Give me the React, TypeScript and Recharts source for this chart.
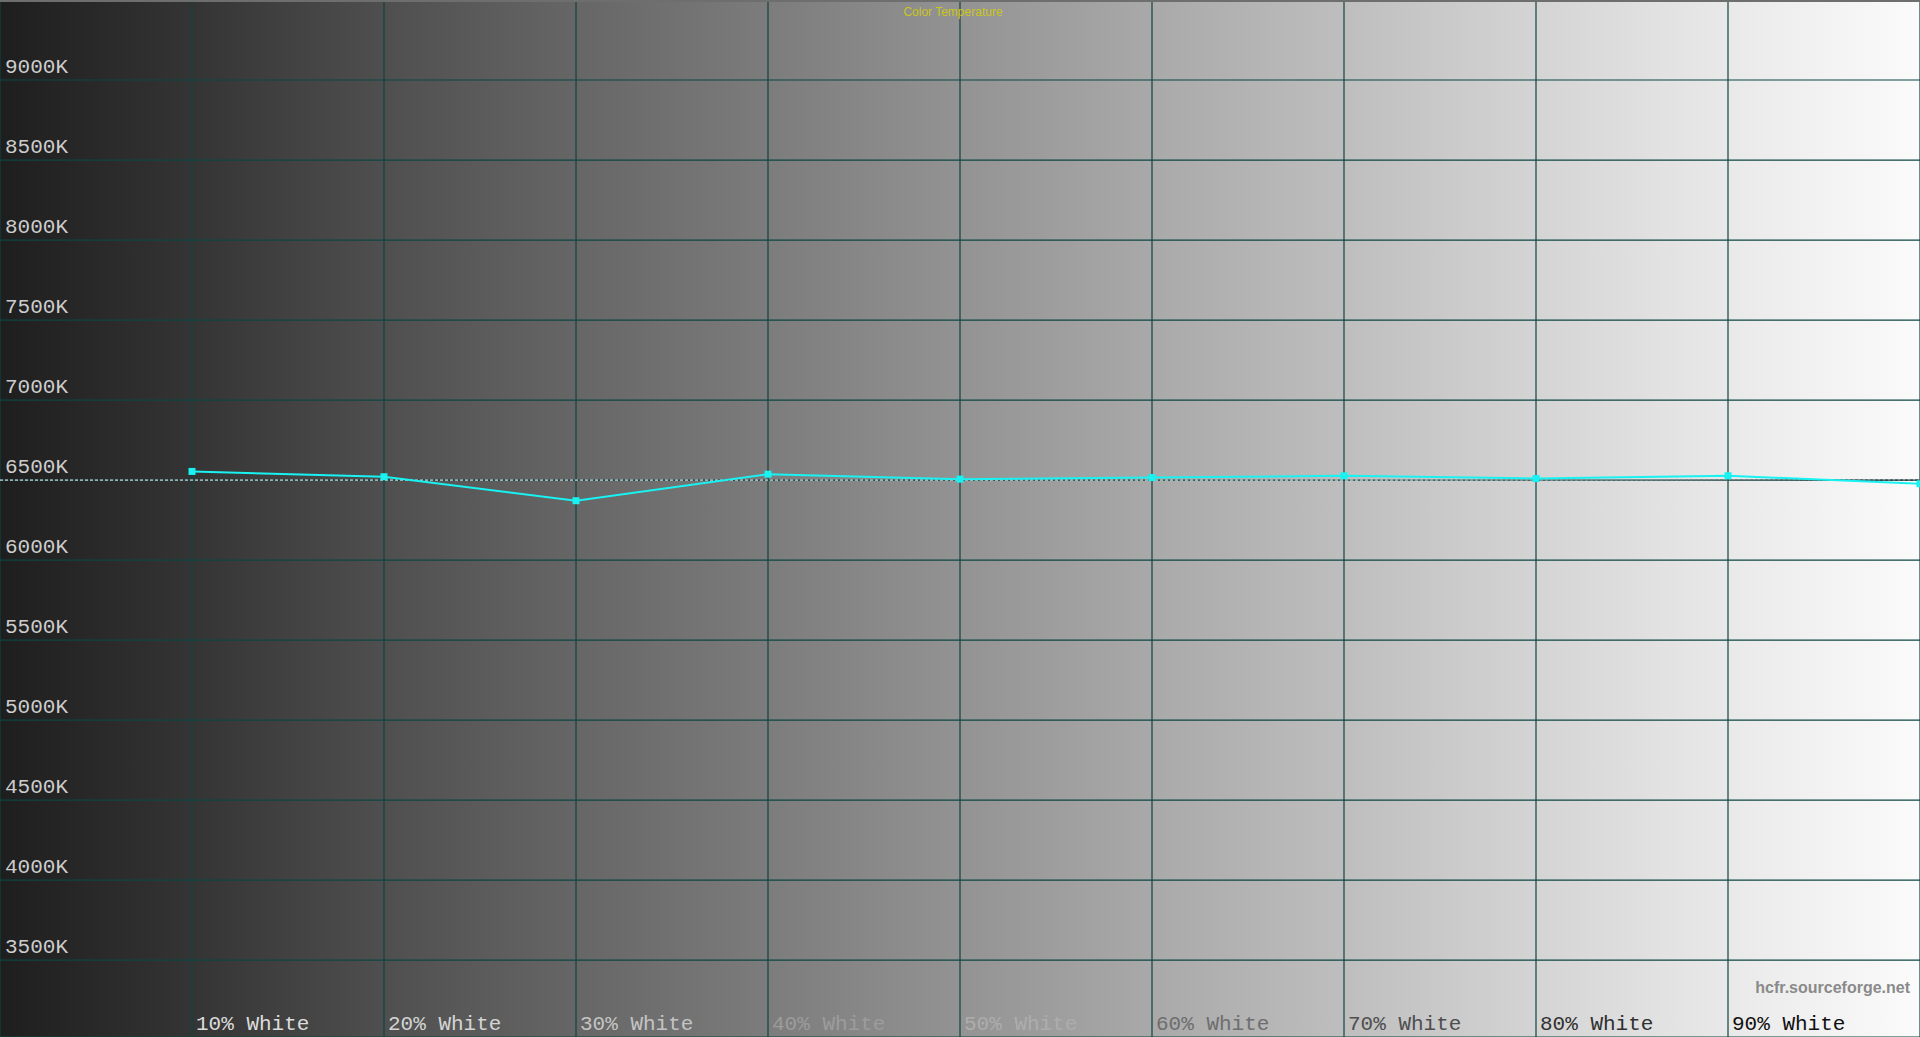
import React from "react";
import { CartesianGrid, Line, LineChart, ReferenceLine, XAxis, YAxis } from "recharts";

// grey ramp levels measured by the probe
const levels = [10, 20, 30, 40, 50, 60, 70, 80, 90, 100];
const kelvin = [6554, 6521, 6371, 6537, 6506, 6516, 6527, 6510, 6527, 6477];

const xTicks = [0, 10, 20, 30, 40, 50, 60, 70, 80, 90, 100];
const xLabels = ["", "10% White", "20% White", "30% White", "40% White", "50% White", "60% White", "70% White", "80% White", "90% White", ""];
const xLabelColors = ["", "#dcdcdc", "#d4d4d4", "#c4c4c4", "#9c9c9c", "#adadad", "#6e6e6e", "#4e4e4e", "#303030", "#101010", ""];

const yTicks = [3500, 4000, 4500, 5000, 5500, 6000, 6500, 7000, 7500, 8000, 8500, 9000];
const target = 6500;

const data = levels.map((level, i) => ({ level, kelvin: kelvin[i] }));

const MONO = '"Courier New", "Liberation Mono", monospace';

const renderYTick = (props: any) => {
  const { y, payload } = props;
  return (
    <text x={5} y={y - 7} fill="#cdcdcd" fontSize={21} fontFamily={MONO}>
      {payload.value}K
    </text>
  );
};

const renderXTick = (props: any) => {
  const { x, payload } = props;
  const i = xTicks.indexOf(payload.value);
  if (!xLabels[i]) return <g />;
  return (
    <text x={x + 4} y={1030} fill={xLabelColors[i]} fontSize={21} fontFamily={MONO}>
      {xLabels[i]}
    </text>
  );
};

const SquareDot = (props: any) => {
  const { cx, cy } = props;
  if (cx == null || cy == null) return <g />;
  return <rect x={cx - 3.5} y={cy - 3.5} width={7} height={7} fill="#19f2f2" />;
};

export default function App() {
  return (
    <div
      style={{
        position: "absolute",
        top: 0,
        left: 0,
        width: 1920,
        height: 1037,
        overflow: "hidden",
        background:
          "linear-gradient(to right, #1e1e1e 0%, #343434 10%, #4f4f4f 20%, #666666 30%, #7c7c7c 40%, #939393 50%, #a9a9a9 60%, #bebebe 70%, #d4d4d4 80%, #e9e9e9 90%, #fbfbfb 100%)",
      }}
    >
      <LineChart width={1920} height={1037} data={data} margin={{ top: 0, right: 0, bottom: 0, left: 0 }}>
        <defs>
          <linearGradient id="refFade" gradientUnits="userSpaceOnUse" x1="0" y1="0" x2="1920" y2="0">
            <stop offset="0%" stopColor="#ffffff" />
            <stop offset="70%" stopColor="#f0f0f0" />
            <stop offset="100%" stopColor="#202020" />
          </linearGradient>
        </defs>
        <CartesianGrid stroke="#0f4444" strokeWidth={1.2} />
        <XAxis
          type="number"
          dataKey="level"
          domain={[0, 100]}
          ticks={xTicks}
          mirror
          tickSize={0}
          tickMargin={0}
          axisLine={false}
          tickLine={false}
          tick={renderXTick}
          interval={0}
        />
        <YAxis
          type="number"
          domain={[3020, 9500]}
          ticks={yTicks}
          mirror
          tickSize={0}
          tickMargin={0}
          axisLine={false}
          tickLine={false}
          tick={renderYTick}
          interval={0}
        />
        <ReferenceLine y={target} stroke="url(#refFade)" strokeDasharray="3 2" strokeWidth={1} />
        <Line
          type="linear"
          dataKey="kelvin"
          stroke="#19f2f2"
          strokeWidth={2}
          dot={<SquareDot />}
          activeDot={false}
          isAnimationActive={false}
        />
      </LineChart>
      <div style={{ position: "absolute", top: 0, left: 0, width: 1920, height: 2, background: "#6e6e6e" }} />
      <div
        style={{
          position: "absolute",
          top: 5,
          left: 0,
          width: 1906,
          textAlign: "center",
          color: "#cbc61c",
          fontFamily: "Arial, 'Liberation Sans', sans-serif",
          fontSize: 12,
          lineHeight: "14px",
        }}
      >
        Color Temperature
      </div>
      <div
        style={{
          position: "absolute",
          top: 980,
          right: 10,
          color: "#8a8a8a",
          fontFamily: "Arial, 'Liberation Sans', sans-serif",
          fontWeight: "bold",
          fontSize: 16,
          lineHeight: "16px",
        }}
      >
        hcfr.sourceforge.net
      </div>
    </div>
  );
}
